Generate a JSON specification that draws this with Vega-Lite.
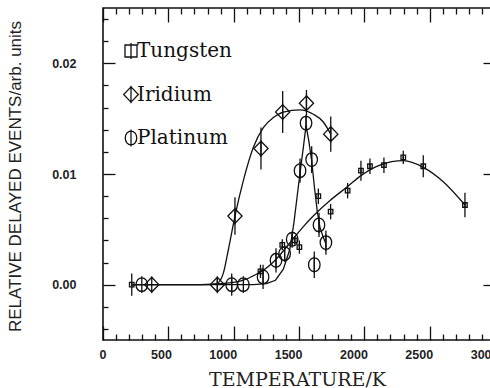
{
  "$schema": "https://vega.github.io/schema/vega-lite/v6.json",
  "width": 392,
  "height": 332,
  "autosize": {"type": "none"},
  "padding": {"left": 103, "top": 8, "right": 0, "bottom": 48},
  "background": "white",
  "config": {
    "view": {"stroke": "#111", "strokeWidth": 1.6},
    "axis": {"domain": false, "grid": false, "tickColor": "#111", "tickWidth": 1.3, "labelFont": "Liberation Sans", "labelFontSize": 12.5, "labelFontWeight": "bold", "labelColor": "#222", "titleColor": "#222"},
    "legend": {"title": null, "symbolSize": 256, "symbolStrokeWidth": 1.3, "symbolFillColor": "transparent", "symbolStrokeColor": "#111", "labelFont": "DejaVu Serif", "labelFontSize": 20, "labelColor": "#111", "labelOffset": -4, "rowPadding": 20.5, "padding": 0, "labelLimit": 0}
  },
  "datasets": {
    "pts": [
      {"metal": "Tungsten", "T": 220, "V": 0.0, "err": 0.001},
      {"metal": "Tungsten", "T": 1205, "V": 0.0012, "err": 0.0006},
      {"metal": "Tungsten", "T": 1372, "V": 0.0036, "err": 0.0005},
      {"metal": "Tungsten", "T": 1468, "V": 0.004, "err": 0.0004},
      {"metal": "Tungsten", "T": 1503, "V": 0.0034, "err": 0.0006},
      {"metal": "Tungsten", "T": 1648, "V": 0.008, "err": 0.0007},
      {"metal": "Tungsten", "T": 1742, "V": 0.0066, "err": 0.0007},
      {"metal": "Tungsten", "T": 1872, "V": 0.0085, "err": 0.0007},
      {"metal": "Tungsten", "T": 1974, "V": 0.0103, "err": 0.0009},
      {"metal": "Tungsten", "T": 2043, "V": 0.0107, "err": 0.0007},
      {"metal": "Tungsten", "T": 2150, "V": 0.0108, "err": 0.0007},
      {"metal": "Tungsten", "T": 2298, "V": 0.0115, "err": 0.0006},
      {"metal": "Tungsten", "T": 2451, "V": 0.0107, "err": 0.001},
      {"metal": "Tungsten", "T": 2770, "V": 0.0072, "err": 0.0011},
      {"metal": "Iridium", "T": 373, "V": 0.0, "err": 0.0},
      {"metal": "Iridium", "T": 875, "V": 0.0, "err": 0.0005},
      {"metal": "Iridium", "T": 1010, "V": 0.0062, "err": 0.0017},
      {"metal": "Iridium", "T": 1209, "V": 0.0123, "err": 0.0019},
      {"metal": "Iridium", "T": 1375, "V": 0.0156, "err": 0.0019},
      {"metal": "Iridium", "T": 1557, "V": 0.0164, "err": 0.0012},
      {"metal": "Iridium", "T": 1743, "V": 0.0136, "err": 0.0016},
      {"metal": "Platinum", "T": 297, "V": 0.0, "err": 0.0},
      {"metal": "Platinum", "T": 985, "V": 0.0, "err": 0.001},
      {"metal": "Platinum", "T": 1074, "V": 0.0, "err": 0.0},
      {"metal": "Platinum", "T": 1225, "V": 0.0007, "err": 0.0011},
      {"metal": "Platinum", "T": 1324, "V": 0.0022, "err": 0.0011},
      {"metal": "Platinum", "T": 1390, "V": 0.0028, "err": 0.0006},
      {"metal": "Platinum", "T": 1448, "V": 0.0041, "err": 0.0005},
      {"metal": "Platinum", "T": 1508, "V": 0.0103, "err": 0.0011},
      {"metal": "Platinum", "T": 1554, "V": 0.0146, "err": 0.0006},
      {"metal": "Platinum", "T": 1597, "V": 0.0113, "err": 0.0012},
      {"metal": "Platinum", "T": 1617, "V": 0.0018, "err": 0.0012},
      {"metal": "Platinum", "T": 1653, "V": 0.0054, "err": 0.0011},
      {"metal": "Platinum", "T": 1706, "V": 0.0038, "err": 0.0011}
    ],
    "curves": [
      {"metal": "Tungsten", "T": 220, "V": 0.0},
      {"metal": "Tungsten", "T": 700, "V": 0.0},
      {"metal": "Tungsten", "T": 900, "V": 0.0001},
      {"metal": "Tungsten", "T": 1000, "V": 0.0002},
      {"metal": "Tungsten", "T": 1074, "V": 0.0004},
      {"metal": "Tungsten", "T": 1150, "V": 0.0008},
      {"metal": "Tungsten", "T": 1227, "V": 0.0013},
      {"metal": "Tungsten", "T": 1300, "V": 0.002},
      {"metal": "Tungsten", "T": 1355, "V": 0.0027},
      {"metal": "Tungsten", "T": 1452, "V": 0.0041},
      {"metal": "Tungsten", "T": 1530, "V": 0.0052},
      {"metal": "Tungsten", "T": 1609, "V": 0.0062},
      {"metal": "Tungsten", "T": 1737, "V": 0.0076},
      {"metal": "Tungsten", "T": 1865, "V": 0.0088},
      {"metal": "Tungsten", "T": 1980, "V": 0.0099},
      {"metal": "Tungsten", "T": 2120, "V": 0.0108},
      {"metal": "Tungsten", "T": 2300, "V": 0.0112},
      {"metal": "Tungsten", "T": 2451, "V": 0.0106},
      {"metal": "Tungsten", "T": 2604, "V": 0.0093},
      {"metal": "Tungsten", "T": 2770, "V": 0.0072},
      {"metal": "Iridium", "T": 220, "V": 0.0},
      {"metal": "Iridium", "T": 800, "V": 0.0},
      {"metal": "Iridium", "T": 870, "V": 0.0001},
      {"metal": "Iridium", "T": 920, "V": 0.001},
      {"metal": "Iridium", "T": 960, "V": 0.0032},
      {"metal": "Iridium", "T": 1010, "V": 0.0062},
      {"metal": "Iridium", "T": 1074, "V": 0.0094},
      {"metal": "Iridium", "T": 1150, "V": 0.0124},
      {"metal": "Iridium", "T": 1227, "V": 0.0142},
      {"metal": "Iridium", "T": 1303, "V": 0.0151},
      {"metal": "Iridium", "T": 1380, "V": 0.0156},
      {"metal": "Iridium", "T": 1508, "V": 0.0158},
      {"metal": "Iridium", "T": 1610, "V": 0.0154},
      {"metal": "Iridium", "T": 1686, "V": 0.0147},
      {"metal": "Iridium", "T": 1743, "V": 0.0136},
      {"metal": "Platinum", "T": 220, "V": 0.0},
      {"metal": "Platinum", "T": 1150, "V": 0.0},
      {"metal": "Platinum", "T": 1250, "V": 0.0001},
      {"metal": "Platinum", "T": 1320, "V": 0.0004},
      {"metal": "Platinum", "T": 1380, "V": 0.0014},
      {"metal": "Platinum", "T": 1430, "V": 0.0032},
      {"metal": "Platinum", "T": 1460, "V": 0.0055},
      {"metal": "Platinum", "T": 1485, "V": 0.0079},
      {"metal": "Platinum", "T": 1508, "V": 0.0101},
      {"metal": "Platinum", "T": 1532, "V": 0.0123},
      {"metal": "Platinum", "T": 1554, "V": 0.0144},
      {"metal": "Platinum", "T": 1575, "V": 0.013},
      {"metal": "Platinum", "T": 1597, "V": 0.0112},
      {"metal": "Platinum", "T": 1620, "V": 0.0086},
      {"metal": "Platinum", "T": 1640, "V": 0.0066},
      {"metal": "Platinum", "T": 1660, "V": 0.0052},
      {"metal": "Platinum", "T": 1685, "V": 0.0043},
      {"metal": "Platinum", "T": 1706, "V": 0.0037}
    ]
  },
  "resolve": {"axis": {"x": "independent", "y": "independent"}},
  "layer": [
    {
      "data": {"name": "curves"},
      "transform": [{"filter": "datum.metal == 'Tungsten'"}],
      "mark": {"type": "line", "interpolate": "monotone", "color": "#111", "strokeWidth": 1.3},
      "encoding": {
        "x": {"field": "T", "type": "quantitative", "scale": {"domain": [0, 3000], "nice": false, "zero": false},
          "axis": {"orient": "bottom", "values": [0, 500, 1000, 1500, 2000, 2500, 3000], "ticks": false, "labels": true, "labelAlign": "right", "labelOffset": 3, "labelBaseline": "top", "labelPadding": 8, "labelFlush": false, "labelOverlap": false, "format": "d",
            "title": "TEMPERATURE/K", "titleFont": "DejaVu Serif", "titleFontSize": 19, "titleFontWeight": "normal", "titleX": 194, "titleY": 45, "titleBaseline": "alphabetic", "titleAlign": "center"}},
        "y": {"field": "V", "type": "quantitative", "scale": {"domain": [-0.005, 0.025], "nice": false, "zero": false},
          "axis": {"orient": "left", "values": [0, 0.01, 0.02], "ticks": false, "labelPadding": 27, "format": ".2f", "labelBaseline": "middle", "labelAlign": "right", "labelFlush": false, "labelOverlap": false,
            "title": "RELATIVE DELAYED EVENTS/arb. units", "titleFont": "Liberation Sans", "titleFontSize": 17, "titleFontWeight": "normal", "titleAngle": -90, "titleX": -88, "titleY": 168, "titleAlign": "center", "titleBaseline": "middle"}}
      }
    },
    {
      "data": {"name": "curves"},
      "transform": [{"filter": "datum.metal == 'Iridium'"}],
      "mark": {"type": "line", "interpolate": "monotone", "color": "#111", "strokeWidth": 1.3},
      "encoding": {
        "x": {"field": "T", "type": "quantitative",
          "axis": {"orient": "bottom", "values": [0, 500, 1000, 1500, 2000, 2500, 3000], "ticks": true, "tickSize": -14, "labels": false, "title": null}},
        "y": {"field": "V", "type": "quantitative",
          "axis": {"orient": "left", "values": [0, 0.01, 0.02], "ticks": true, "tickSize": -12, "labels": false, "title": null}}
      }
    },
    {
      "data": {"name": "curves"},
      "transform": [{"filter": "datum.metal == 'Platinum'"}],
      "mark": {"type": "line", "interpolate": "linear", "color": "#111", "strokeWidth": 1.3},
      "encoding": {
        "x": {"field": "T", "type": "quantitative",
          "axis": {"orient": "bottom", "values": [100, 200, 300, 400, 600, 700, 800, 900, 1100, 1200, 1300, 1400, 1600, 1700, 1800, 1900, 2100, 2200, 2300, 2400, 2600, 2700, 2800, 2900], "ticks": true, "tickSize": -6, "labels": false, "title": null}},
        "y": {"field": "V", "type": "quantitative",
          "axis": {"orient": "left", "values": [-0.004, -0.002, 0.002, 0.004, 0.006, 0.008, 0.012, 0.014, 0.016, 0.018, 0.022, 0.024], "ticks": true, "tickSize": -5, "labels": false, "title": null}}
      }
    },
    {
      "data": {"name": "pts"},
      "mark": {"type": "errorbar", "color": "#111", "thickness": 1.3},
      "encoding": {
        "x": {"field": "T", "type": "quantitative", "axis": null},
        "y": {"field": "V", "type": "quantitative", "axis": null},
        "yError": {"field": "err"}
      }
    },
    {
      "data": {"name": "pts"},
      "transform": [{"filter": "datum.metal == 'Tungsten'"}],
      "mark": {"type": "point", "filled": false, "color": "#111", "strokeWidth": 1.3, "size": 36, "opacity": 1},
      "encoding": {
        "x": {"field": "T", "type": "quantitative",
          "axis": {"orient": "top", "values": [0, 500, 1000, 1500, 2000, 2500, 3000], "ticks": true, "tickSize": -14, "labels": false, "title": null}},
        "y": {"field": "V", "type": "quantitative",
          "axis": {"orient": "right", "values": [0, 0.01, 0.02], "ticks": true, "tickSize": -12, "labels": false, "title": null}},
        "shape": {"field": "metal", "type": "nominal",
          "scale": {"domain": ["Tungsten", "Iridium", "Platinum"], "range": ["M-0.75,-0.75H0.75V0.75H-0.75Z M0,-1V1", "M0,-0.95L0.92,0L0,0.95L-0.92,0Z M0,-1.1V1.1", "M0,-0.85C0.42,-0.85 0.72,-0.48 0.72,0C0.72,0.48 0.42,0.85 0,0.85C-0.42,0.85 -0.72,0.48 -0.72,0C-0.72,-0.48 -0.42,-0.85 0,-0.85Z M0,-1.05V1.05"]},
          "legend": {"orient": "none", "legendX": 18, "legendY": 33, "title": null}}
      }
    },
    {
      "data": {"name": "pts"},
      "transform": [{"filter": "datum.metal == 'Iridium'"}],
      "mark": {"type": "point", "filled": false, "color": "#111", "strokeWidth": 1.3, "size": 240, "opacity": 1},
      "encoding": {
        "x": {"field": "T", "type": "quantitative",
          "axis": {"orient": "top", "values": [100, 200, 300, 400, 600, 700, 800, 900, 1100, 1200, 1300, 1400, 1600, 1700, 1800, 1900, 2100, 2200, 2300, 2400, 2600, 2700, 2800, 2900], "ticks": true, "tickSize": -6, "labels": false, "title": null}},
        "y": {"field": "V", "type": "quantitative",
          "axis": {"orient": "right", "values": [-0.004, -0.002, 0.002, 0.004, 0.006, 0.008, 0.012, 0.014, 0.016, 0.018, 0.022, 0.024], "ticks": true, "tickSize": -5, "labels": false, "title": null}},
        "shape": {"field": "metal", "type": "nominal",
          "scale": {"domain": ["Tungsten", "Iridium", "Platinum"], "range": ["M-0.75,-0.75H0.75V0.75H-0.75Z M0,-1V1", "M0,-0.95L0.92,0L0,0.95L-0.92,0Z M0,-1.1V1.1", "M0,-0.85C0.42,-0.85 0.72,-0.48 0.72,0C0.72,0.48 0.42,0.85 0,0.85C-0.42,0.85 -0.72,0.48 -0.72,0C-0.72,-0.48 -0.42,-0.85 0,-0.85Z M0,-1.05V1.05"]},
          "legend": {"orient": "none", "legendX": 18, "legendY": 33, "title": null}}
      }
    },
    {
      "data": {"name": "pts"},
      "transform": [{"filter": "datum.metal == 'Platinum'"}],
      "mark": {"type": "point", "filled": false, "color": "#111", "strokeWidth": 1.3, "size": 256, "opacity": 1},
      "encoding": {
        "x": {"field": "T", "type": "quantitative", "axis": null},
        "y": {"field": "V", "type": "quantitative", "axis": null},
        "shape": {"field": "metal", "type": "nominal",
          "scale": {"domain": ["Tungsten", "Iridium", "Platinum"], "range": ["M-0.75,-0.75H0.75V0.75H-0.75Z M0,-1V1", "M0,-0.95L0.92,0L0,0.95L-0.92,0Z M0,-1.1V1.1", "M0,-0.85C0.42,-0.85 0.72,-0.48 0.72,0C0.72,0.48 0.42,0.85 0,0.85C-0.42,0.85 -0.72,0.48 -0.72,0C-0.72,-0.48 -0.42,-0.85 0,-0.85Z M0,-1.05V1.05"]},
          "legend": {"orient": "none", "legendX": 18, "legendY": 33, "title": null}}
      }
    }
  ]
}
